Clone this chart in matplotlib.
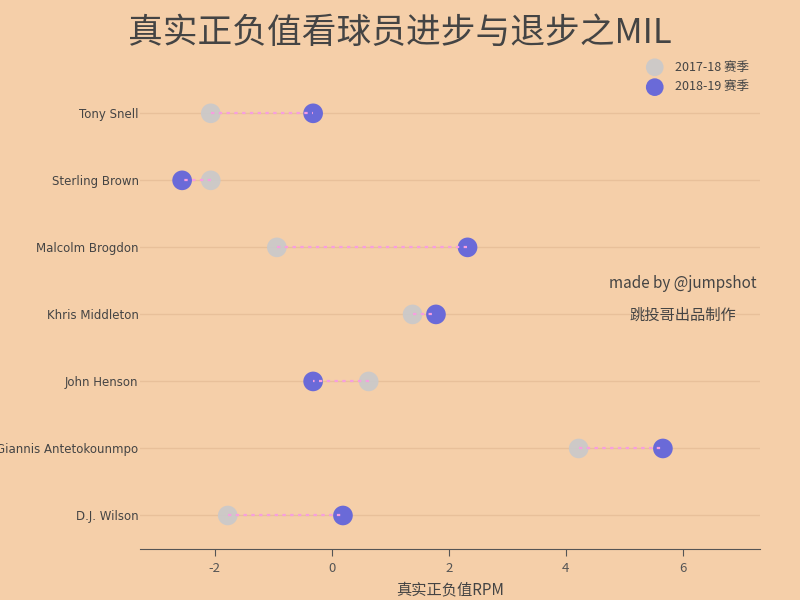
import numpy as np
import matplotlib.pyplot as plt

plt.rcParams['font.family'] = ['Noto Sans CJK SC', 'DejaVu Sans']

players = ['D.J. Wilson', 'Giannis Antetokounmpo', 'John Henson', 'Khris Middleton',
           'Malcolm Brogdon', 'Sterling Brown', 'Tony Snell']
rpm_1718 = [-1.78, 4.22, 0.63, 1.38, -0.94, -2.07, -2.07]
rpm_1819 = [0.19, 5.66, -0.32, 1.78, 2.32, -2.56, -0.32]
season_labels = ['2017-18 赛季', '2018-19 赛季']

bg = '#f5cfa9'
fig = plt.figure(figsize=(8, 6), dpi=100, facecolor=bg)
ax = fig.add_axes([0.175, 0.085, 0.775, 0.782], facecolor=bg)

y = np.arange(len(players))
for yi, a, b in zip(y, rpm_1718, rpm_1819):
    ax.plot([a, b], [yi, yi], linestyle=(0, (1.5, 2)), color='#f79ee0', lw=1.6, zorder=4)

ax.scatter(rpm_1718, y, s=200, color='#c9c9cb', alpha=0.9, zorder=3, label=season_labels[0], edgecolors='none')
ax.scatter(rpm_1819, y, s=200, color='#6a6ad8', zorder=3, label=season_labels[1], edgecolors='none')

ax.set_xlim(-3.28, 7.32)
ax.set_ylim(-0.5, 6.5)
ax.set_yticks(y)
ax.set_yticklabels(players, fontsize=8.5, color='#444444', family=['DejaVu Sans'])
ax.set_xticks([-2, 0, 2, 4, 6])
ax.set_xticklabels(['-2', '0', '2', '4', '6'], fontsize=9.5, color='#555555')
ax.grid(axis='y', color='#e8c09a', lw=1)
ax.set_axisbelow(True)
for s in ['top', 'right', 'left']:
    ax.spines[s].set_visible(False)
ax.spines['bottom'].set_color('#555555')
ax.tick_params(axis='y', length=0, pad=1)
ax.tick_params(axis='x', length=5, color='#555555', pad=4)
ax.set_xlabel('真实正负值RPM', fontsize=11, color='#444444', labelpad=5)

leg = ax.legend(loc='upper right', bbox_to_anchor=(1.0, 1.065), frameon=False, fontsize=9,
                labelcolor='#444444', handletextpad=0.6, labelspacing=0.55, markerscale=0.9)

fig.text(0.5, 0.945, '真实正负值看球员进步与退步之MIL', ha='center', va='center',
         fontsize=25, color='#444444')
fig.text(0.854, 0.528, 'made by @jumpshot', ha='center', va='center', fontsize=11, color='#444444')
fig.text(0.854, 0.474, '跳投哥出品制作', ha='center', va='center', fontsize=11, color='#444444')

fig.savefig('out.png', facecolor=bg)
